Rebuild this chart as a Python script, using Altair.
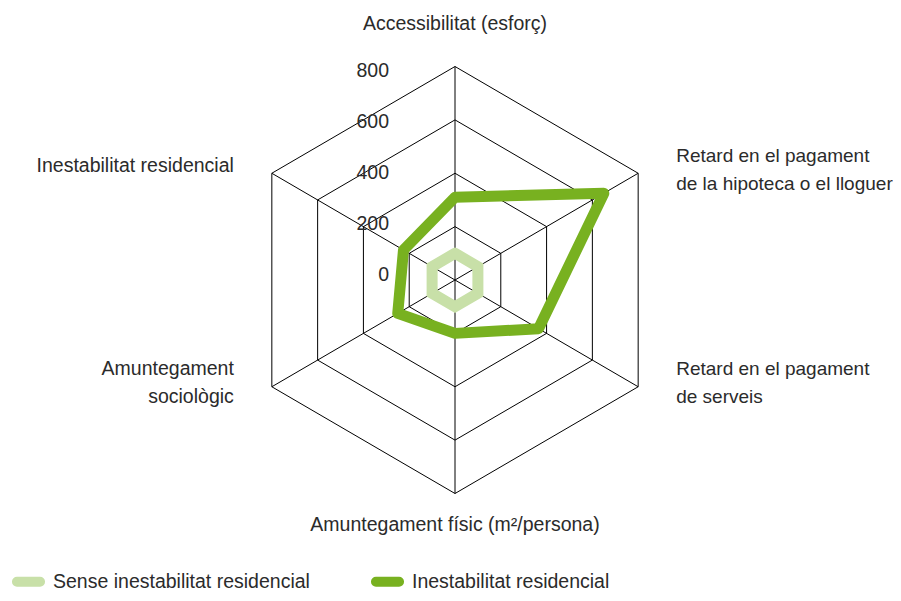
import altair as alt
import pandas as pd

# ---- data ----
axis_labels = [
    "Accessibilitat (esforç)",
    "Retard en el pagament\nde la hipoteca o el lloguer",
    "Retard en el  pagament\nde serveis",
    "Amuntegament físic (m²/persona)",
    "Amuntegament\nsociològic",
    "Inestabilitat residencial",
]
series_names = ["Sense inestabilitat residencial", "Inestabilitat residencial"]
sense_values = [100, 100, 100, 100, 100, 100]
inest_values = [310, 650, 365, 200, 250, 225]
tick_values = [0, 200, 400, 600, 800]

# ---- style ----
FONT = "Liberation Sans"
TXT = "#2b2b2b"
LIGHT = "#c8e0a8"
DARK = "#78b120"
W, H = 885, 577
CX, CY = 447, 272          # centre of the web in chart pixels
KX, KY = 211.5 / 800, 213.5 / 800
xdom = [-CX / KX, (W - CX) / KX]
ydom = [-(H - CY) / KY, CY / KY]
RMAX = max(tick_values)
N = len(axis_labels)

# rounded "pill" legend symbol
PILL = ("M-0.7,-0.06 L0.7,-0.06 A0.06,0.06 0 0 1 0.7,0.06 "
        "L-0.7,0.06 A0.06,0.06 0 0 1 -0.7,-0.06 Z")

xs = alt.Scale(domain=xdom, nice=False, zero=False)
ys = alt.Scale(domain=ydom, nice=False, zero=False)

def X(f="x"):
    return alt.X(f"{f}:Q", scale=xs, axis=None)

def Y(f="y"):
    return alt.Y(f"{f}:Q", scale=ys, axis=None)

xy_calc = dict(
    x=f"datum.r * sin(datum.i * 2 * PI / {N})",
    y=f"datum.r * cos(datum.i * 2 * PI / {N})",
)

# rings
ring_rows = [{"level": lv, "i": i, "r": lv} for lv in tick_values[1:] for i in range(N + 1)]
rings = alt.Chart(pd.DataFrame(ring_rows)).transform_calculate(**xy_calc).mark_line(
    color="black", strokeWidth=1, strokeJoin="miter"
).encode(x=X(), y=Y(), detail="level:N", order="i:Q")

# spokes
spoke_rows = [{"i": i, "r": RMAX, "z": 0} for i in range(N)]
spokes = alt.Chart(pd.DataFrame(spoke_rows)).transform_calculate(**xy_calc).mark_rule(
    color="black", strokeWidth=1
).encode(x=X("z"), y=Y("z"), x2="x:Q", y2="y:Q")

# series
rows = []
for name, vals in zip(series_names, [sense_values, inest_values]):
    for i in range(N + 1):
        rows.append({"series": name, "i": i, "r": vals[i % N]})
sdf = pd.DataFrame(rows)

color = alt.Color(
    "series:N",
    scale=alt.Scale(domain=series_names, range=[LIGHT, DARK]),
    legend=alt.Legend(
        title=None, orient="none", legendX=0, legendY=553, direction="horizontal",
        symbolType=PILL, symbolStrokeWidth=8, symbolSize=1089,
        labelFont=FONT, labelFontSize=19.5, labelColor=TXT, labelOffset=4,
        columnPadding=48, labelLimit=400,
    ),
)

light = alt.Chart(sdf).transform_filter(f"datum.series == '{series_names[0]}'").transform_calculate(
    **xy_calc
).mark_line(strokeWidth=11, strokeJoin="miter", strokeCap="round").encode(
    x=X(), y=Y(), order="i:Q", color=color
)
dark = alt.Chart(sdf).transform_filter(f"datum.series == '{series_names[1]}'").transform_calculate(
    **xy_calc
).mark_line(strokeWidth=11, strokeJoin="round", strokeCap="round").encode(
    x=X(), y=Y(), order="i:Q", color=color
)

# tick labels (drawn slightly compressed toward the centre, as in the original)
tdf = pd.DataFrame({"r": tick_values, "z": 0, "lab": [str(t) for t in tick_values]})
tlabels = alt.Chart(tdf).transform_calculate(
    ry="datum.r * 0.955 + 18"
).mark_text(
    align="right", baseline="middle", dx=-66, font=FONT, fontSize=19.5, color=TXT
).encode(x=X("z"), y=Y("ry"), text="lab:N")

# category labels
ldf = pd.DataFrame({"i": list(range(N)), "r": RMAX, "lab": axis_labels})
offsets = [
    ("center", 0, -43, 19.5),
    ("left", 38, -17, 19),
    ("left", 38, -18, 19),
    ("center", 0, 31, 19.5),
    ("right", -38, -18, 19.5),
    ("right", -38, -7, 19.5),
]
cat_layers = []
for i, (al, dx, dy, fs) in enumerate(offsets):
    cat_layers.append(
        alt.Chart(ldf).transform_filter(f"datum.i == {i}").transform_calculate(**xy_calc).mark_text(
            align=al, baseline="middle", dx=dx, dy=dy, font=FONT, fontSize=fs, color=TXT,
            lineBreak="\n", lineHeight=28,
        ).encode(x=X(), y=Y(), text="lab:N")
    )

chart = alt.layer(rings, spokes, light, dark, tlabels, *cat_layers).properties(
    width=W, height=H, autosize=alt.AutoSizeParams(type="none"),
    padding={"left": 0, "top": 0, "right": 0, "bottom": 8},
).configure(background="white").configure_view(stroke=None)

chart.save("out.html", embed_options={"renderer": "svg", "actions": False})
